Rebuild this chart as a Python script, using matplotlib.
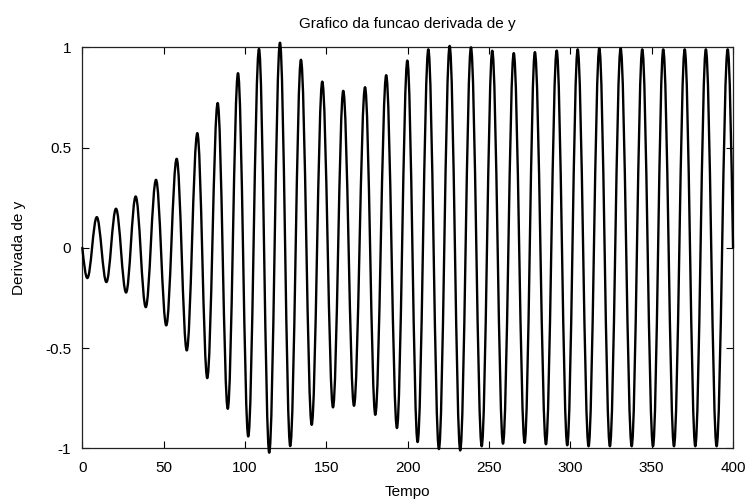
import numpy as np
import matplotlib
matplotlib.use("Agg")
import matplotlib.pyplot as plt
from matplotlib.path import Path
from matplotlib.patches import PathPatch

plt.rcParams['font.family'] = ['Liberation Sans', 'DejaVu Sans']

# extremos (tempo, valor)
tempo = [0.0, 3.1, 8.9, 14.8, 20.7, 26.9, 32.8, 39.0, 45.3, 51.6, 58.0,
         64.2, 70.7, 76.8, 83.2, 89.4, 95.7, 102.0, 108.6, 114.9, 121.5,
         127.8, 134.4, 141.0, 147.5, 154.1, 160.4, 167.0, 173.8, 180.1, 186.8,
         193.4, 199.8, 206.1, 212.7, 219.2, 225.8, 232.3, 238.9, 245.5, 252.0,
         258.6, 265.2, 271.9, 278.2, 285.0, 291.6, 298.1, 304.5, 311.2, 317.8,
         324.3, 330.9, 337.7, 344.2, 350.8, 357.1, 363.7, 370.3, 376.8, 383.3,
         389.9, 396.7, 400.0]
dy = [0.0, -0.151, 0.153, -0.171, 0.195, -0.223, 0.256, -0.296, 0.339, -0.387, 0.444,
      -0.512, 0.572, -0.650, 0.722, -0.803, 0.871, -0.941, 0.992, -1.022, 1.023,
      -0.989, 0.938, -0.883, 0.829, -0.796, 0.783, -0.788, 0.801, -0.833, 0.861,
      -0.899, 0.934, -0.969, 0.990, -1.004, 1.007, -1.011, 1.000, -0.990, 0.983,
      -0.977, 0.971, -0.973, 0.976, -0.980, 0.984, -0.985, 0.990, -0.990, 0.995,
      -0.990, 0.995, -0.990, 0.990, -0.990, 0.990, -0.990, 0.990, -0.990, 0.990,
      -0.990, 0.990, 0.0]

xticks = [0, 50, 100, 150, 200, 250, 300, 350, 400]
yticks = [-1, -0.5, 0, 0.5, 1]
yticklabels = ['-1', '-0.5', '0', '0.5', '1']

# curva suave entre extremos (tangente horizontal nos picos)
verts = [(tempo[0], dy[0])]
codes = [Path.MOVETO]
n = len(tempo)
for i in range(n - 1):
    t0, y0 = tempo[i], dy[i]
    t1, y1 = tempo[i + 1], dy[i + 1]
    dt = t1 - t0
    if i == 0:  # quarto de onda partindo do zero
        c1 = (t0 + 0.326 * dt, y0 + 0.512 * (y1 - y0))
        c2 = (t1 - 0.362 * dt, y1)
    elif i == n - 2:  # quarto de onda chegando no zero
        c1 = (t0 + 0.362 * dt, y0)
        c2 = (t1 - 0.326 * dt, y1 - 0.512 * (y1 - y0))
    else:
        c1 = (t0 + 0.3634 * dt, y0)
        c2 = (t1 - 0.3634 * dt, y1)
    verts += [c1, c2, (t1, y1)]
    codes += [Path.CURVE4] * 3

fig = plt.figure(figsize=(7.47, 4.99), dpi=100)
ax = fig.add_axes([0.1102, 0.1016, 0.8711, 0.8036])
ax.add_patch(PathPatch(Path(verts, codes), facecolor='none', edgecolor='black',
                       linewidth=1.7, capstyle='round', joinstyle='round',
                       clip_on=False, zorder=3))

ax.set_xlim(0, 400)
ax.set_ylim(-1, 1)
ax.set_xticks(xticks)
ax.set_yticks(yticks)
ax.set_yticklabels(yticklabels)
ax.tick_params(direction='in', length=5, width=0.8, top=True, right=True,
               labelsize=11, colors='black')
ax.tick_params(axis='x', pad=9)
ax.tick_params(axis='y', pad=8)
for s in ax.spines.values():
    s.set_linewidth(0.9)
    s.set_color('#222222')

ax.set_title('Grafico da funcao derivada de y', fontsize=11, pad=14)
ax.set_xlabel('Tempo', fontsize=11, labelpad=7)
ax.set_ylabel('Derivada de y', fontsize=11, labelpad=14)

fig.savefig('out.png', dpi=100)
